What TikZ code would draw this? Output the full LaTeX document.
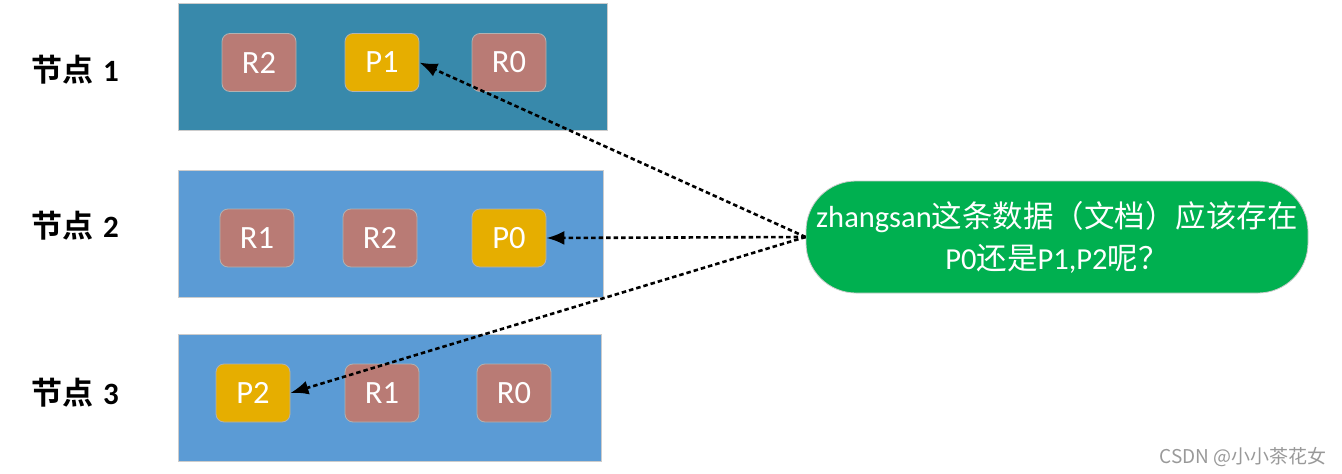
\documentclass[tikz,border=0pt]{standalone}
\usepackage{fontspec}
\setmainfont{Carlito}[BoldFont={Carlito Bold}]
\newfontfamily\cjk{Noto Sans CJK SC}[BoldFont={Noto Sans CJK SC Bold}]
\usetikzlibrary{arrows.meta}
\definecolor{nodeA}{RGB}{56,137,171}
\definecolor{nodeB}{RGB}{91,155,213}
\definecolor{rep}{RGB}{185,123,117}
\definecolor{pri}{RGB}{230,174,0}
\definecolor{qgreen}{RGB}{0,176,80}
\begin{document}
\begin{tikzpicture}[x=1pt,y=-1pt,
 hostbox/.style={draw=black!20, line width=0.8pt, minimum height=127pt, inner sep=0pt},
 shard/.style={draw=white!70!black, line width=0.8pt, rounded corners=8pt, minimum width=74pt, minimum height=58pt, text=white, font=\fontsize{32.5}{34}\selectfont, inner sep=0pt},
 rshard/.style={shard, fill=rep},
 pshard/.style={shard, fill=pri},
 hostlabel/.style={font=\bfseries\fontsize{31}{33}\selectfont, anchor=west, inner sep=0pt},
 link/.style={dash pattern=on 4.5pt off 3pt, line width=2.6pt, -{Latex[length=18pt,width=14pt]}}
]
\useasboundingbox (0,0) rectangle (1342,474);

\node[hostbox, fill=nodeA, minimum width=429pt] (h1) at (392.5,66.5) {};
\node[hostbox, fill=nodeB, minimum width=425pt] (h2) at (390.5,233.5) {};
\node[hostbox, fill=nodeB, minimum width=423pt] (h3) at (389.5,397.5) {};

\node[hostlabel] (l1) at (31,70) {{\cjk\bfseries 节点}\hspace{10pt}1};
\node[hostlabel] (l2) at (31,226) {{\cjk\bfseries 节点}\hspace{10pt}2};
\node[hostlabel] (l3) at (31,393) {{\cjk\bfseries 节点}\hspace{10pt}3};

\node[rshard] (a1) at (259,62.5) {R2};
\node[pshard] (p1) at (382,62.5) {P1};
\node[rshard] (a3) at (509,62.5) {R0};

\node[rshard] (b1) at (257,238) {R1};
\node[rshard] (b2) at (380,238) {R2};
\node[pshard] (p0) at (509,238) {P0};

\node[pshard] (p2) at (253,393) {P2};
\node[rshard] (c2) at (382,393) {R1};
\node[rshard] (c3) at (514,393) {R0};

\node[draw=white!80!black, line width=0.8pt, fill=qgreen, rounded corners=50pt, minimum width=502pt, minimum height=112pt, inner sep=0pt, text=white, align=center, font=\fontsize{30.5}{42}\selectfont] (q) at (1057,237)
 {zhangsan{\cjk 这条数据（文档）应该存在}\\P0{\cjk 还是}P1,P2{\cjk 呢？}};

\draw[link] (q.west) -- (p1.east);
\draw[link] (q.west) -- (p0.east);
\draw[link] (q.west) -- (p2.east);

\node[text=black!40, font=\cjk\fontsize{19}{22}\selectfont, inner sep=0pt] (wm) at (1243,457) {CSDN @小小茶花女};
\end{tikzpicture}
\end{document}
